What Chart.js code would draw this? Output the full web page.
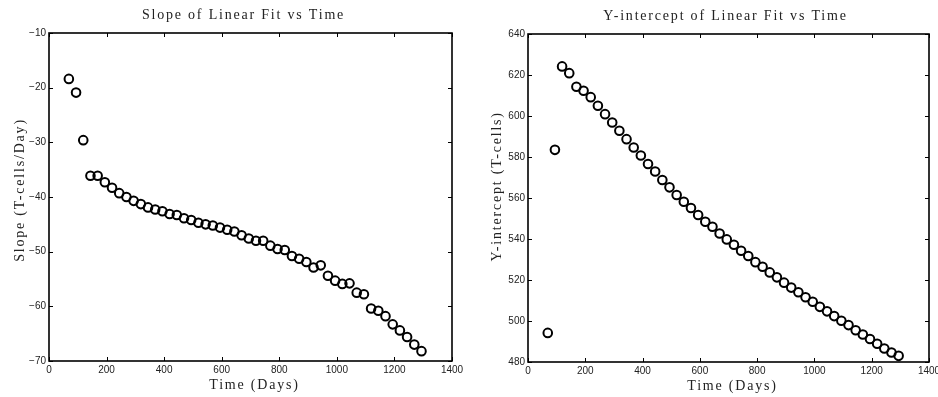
<!DOCTYPE html>
<html>
<head>
<meta charset="utf-8">
<title>Linear fit vs time</title>
<script src="https://cdn.jsdelivr.net/npm/chart.js@4.4.1/dist/chart.umd.min.js"></script>
<style>
html, body { margin: 0; padding: 0; background: #fff; overflow: hidden; width: 938px; height: 397px; }
canvas { position: absolute; top: 0; }
#slopeChart { left: 0; }
#interceptChart { left: 469px; }
</style>
</head>
<body>
<canvas id="slopeChart" width="469" height="397"></canvas>
<canvas id="interceptChart" width="490" height="397"></canvas>
<script>
// values
const days = [69, 94, 119, 144, 169, 194, 219, 244, 269, 294,
              319, 344, 369, 394, 419, 444, 469, 494, 519, 544,
              569, 594, 619, 644, 669, 694, 719, 744, 769, 794,
              819, 844, 869, 894, 919, 944, 969, 994, 1019, 1044,
              1069, 1094, 1119, 1144, 1169, 1194, 1219, 1244, 1269, 1294]

const slopes = [-18.4, -20.9, -29.6, -36.1, -36.1, -37.3, -38.3, -39.3, -40.0, -40.7,
                -41.3, -41.9, -42.3, -42.6, -43.1, -43.3, -43.9, -44.2, -44.7, -45.0,
                -45.2, -45.6, -46.0, -46.3, -47.0, -47.6, -48.0, -48.0, -48.9, -49.5,
                -49.7, -50.8, -51.3, -51.9, -52.9, -52.5, -54.4, -55.3, -55.9, -55.8,
                -57.5, -57.8, -60.4, -60.8, -61.8, -63.3, -64.4, -65.6, -67.0, -68.2]

const intercepts = [494.2, 583.5, 624.2, 620.9, 614.3, 612.3, 609.2, 605.0, 600.9, 596.8,
                    592.8, 588.7, 584.6, 580.7, 576.6, 572.9, 568.8, 565.2, 561.5, 558.2,
                    555.1, 551.7, 548.4, 546.0, 542.7, 539.8, 537.2, 534.3, 531.7, 528.7,
                    526.5, 523.7, 521.3, 518.7, 516.3, 514.0, 511.6, 509.4, 506.9, 504.7,
                    502.4, 500.1, 498.0, 495.5, 493.4, 491.2, 488.9, 486.6, 484.6, 483.0]

const dayTicks = [0, 200, 400, 600, 800, 1000, 1200, 1400]
const slopeTicks = [-70, -60, -50, -40, -30, -20, -10]
const interceptTicks = [480, 500, 520, 540, 560, 580, 600, 620, 640]

// box round the plot + inward ticks on all four sides
const frameTicks = {
  id: 'frameTicks',
  afterDatasetsDraw(chart) {
    const { ctx, chartArea: a, scales } = chart
    ctx.save()
    ctx.strokeStyle = '#000'
    ctx.lineWidth = 1
    ctx.beginPath()
    scales.x.ticks.forEach(t => {
      const px = Math.round(scales.x.getPixelForValue(t.value)) + 0.5
      ctx.moveTo(px, a.bottom); ctx.lineTo(px, a.bottom - 4)
      ctx.moveTo(px, a.top); ctx.lineTo(px, a.top + 4)
    })
    scales.y.ticks.forEach(t => {
      const py = Math.round(scales.y.getPixelForValue(t.value)) + 0.5
      ctx.moveTo(a.left, py); ctx.lineTo(a.left + 4, py)
      ctx.moveTo(a.right, py); ctx.lineTo(a.right - 4, py)
    })
    ctx.stroke()
    ctx.lineWidth = 1.6
    ctx.strokeRect(a.left, a.top, a.right - a.left, a.bottom - a.top)
    ctx.restore()
  }
}

// title and axis titles, spaced out like the original
const axisText = {
  id: 'axisText',
  afterDraw(chart, args, opts) {
    const { ctx, chartArea: a } = chart
    const midX = (a.left + a.right) / 2
    const midY = (a.top + a.bottom) / 2
    ctx.save()
    ctx.fillStyle = '#222'
    ctx.font = '14px "Liberation Serif"'
    ctx.letterSpacing = '1.8px'
    ctx.textAlign = 'center'
    ctx.textBaseline = 'alphabetic'
    ctx.fillText(opts.title, midX + opts.titleShift, a.top - 14.5)
    ctx.fillText(opts.xTitle, midX + 4, a.bottom + 28)
    ctx.translate(a.left - opts.yTitleGap, midY + opts.yTitleShift)
    ctx.rotate(-Math.PI / 2)
    ctx.fillText(opts.yTitle, 0, 0)
    ctx.restore()
  }
}

const tickLabel = v => v < 0 ? '\u2212' + Math.abs(v) : String(v)

function makeChart(id, values, yTicks, pad, yWidth, xHeight, text) {
  const tickFont = { family: '"Liberation Sans", Arial, sans-serif', size: 10 }
  return new Chart(document.getElementById(id), {
    type: 'scatter',
    plugins: [frameTicks, axisText],
    data: {
      datasets: [{
        data: days.map((d, i) => ({ x: d, y: values[i] })),
        pointStyle: 'circle',
        pointRadius: 4.3,
        borderWidth: 2,
        borderColor: '#000',
        backgroundColor: 'rgba(0,0,0,0)'
      }]
    },
    options: {
      responsive: false,
      animation: false,
      layout: { padding: pad },
      plugins: {
        legend: { display: false },
        tooltip: { enabled: false },
        axisText: text
      },
      scales: {
        x: {
          type: 'linear',
          min: dayTicks[0],
          max: dayTicks[dayTicks.length - 1],
          afterBuildTicks: s => { s.ticks = dayTicks.map(v => ({ value: v })) },
          afterFit: s => { s.height = xHeight },
          grid: { display: false, drawTicks: false },
          border: { display: false },
          ticks: { font: tickFont, color: '#222', padding: 3, autoSkip: false, maxRotation: 0, callback: tickLabel }
        },
        y: {
          type: 'linear',
          min: yTicks[0],
          max: yTicks[yTicks.length - 1],
          afterBuildTicks: s => { s.ticks = yTicks.map(v => ({ value: v })) },
          afterFit: s => { s.width = yWidth },
          grid: { display: false, drawTicks: false },
          border: { display: false },
          ticks: { font: tickFont, color: '#222', padding: 3, autoSkip: false, callback: tickLabel }
        }
      }
    }
  })
}

makeChart('slopeChart', slopes, slopeTicks,
  { top: 33, right: 17, bottom: 0, left: 0 }, 49, 36,
  { title: 'Slope of Linear Fit vs Time', xTitle: 'Time (Days)', yTitle: 'Slope (T-cells/Day)',
    titleShift: -7, yTitleGap: 25.5, yTitleShift: -7 })

makeChart('interceptChart', intercepts, interceptTicks,
  { top: 34, right: 30, bottom: 0, left: 0 }, 59, 35,
  { title: 'Y-intercept of Linear Fit vs Time', xTitle: 'Time (Days)', yTitle: 'Y-intercept (T-cells)',
    titleShift: -3, yTitleGap: 27, yTitleShift: -11.6 })
</script>
</body>
</html>
